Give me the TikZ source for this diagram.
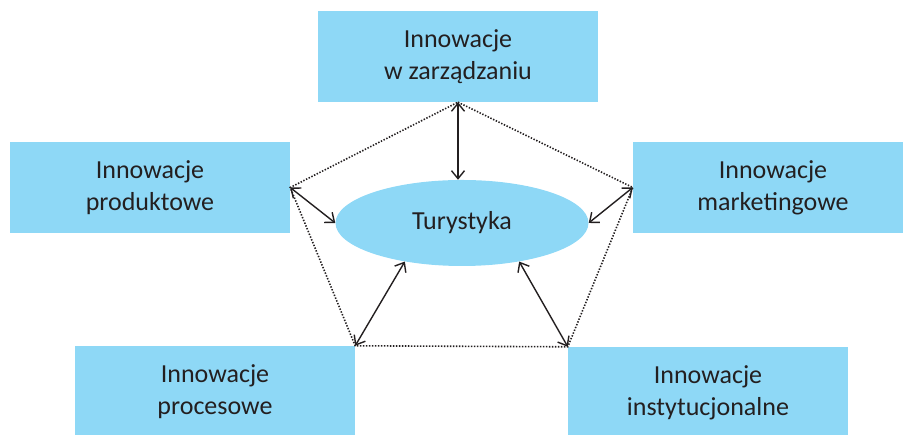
\documentclass[tikz,border=0pt]{standalone}
\usepackage{fontspec}
\setmainfont{Carlito}
\usetikzlibrary{shapes.geometric,arrows.meta}
\definecolor{niebieski}{RGB}{142,216,246}
\definecolor{tekst}{RGB}{35,31,32}

\begin{document}
\begin{tikzpicture}[x=1pt,y=1pt,
    box/.style={fill=niebieski, minimum width=280pt, minimum height=91pt, inner sep=0pt,
      align=center, text=tekst, font=\fontsize{26}{32}\selectfont},
    owal/.style={ellipse, fill=niebieski, minimum width=253pt, minimum height=86pt, inner sep=0pt,
      text=tekst, font=\fontsize{26}{32}\selectfont},
    dwa/.style={{Straight Barb[length=8pt,width=13pt]}-{Straight Barb[length=8pt,width=13pt]},
      line width=1.4pt, draw=tekst},
    kropki/.style={line width=1.6pt, dash pattern=on 1.4pt off 1.6pt, draw=tekst}]
    \clip (0,0) rectangle (903,435);
    % boxes
    \node[box] (zarz) at (458,378.5) {Innowacje\\w zarządzaniu};
    \node[box] (prod) at (150,247.5) {Innowacje\\produktowe};
    \node[box] (mark) at (773,247.5) {Innowacje\\marketingowe};
    \node[box] (proc) at (215,43.5) {Innowacje\\procesowe};
    \node[box] (inst) at (708,42.5) {Innowacje\\instytucjonalne};
    \node[owal] (tur) at (462,212) {Turystyka};
    %
    \draw[kropki] (zarz.south) -- (mark.west) -- (inst.north west) -- (proc.north east) -- (prod.east) -- cycle;
    %
    \draw[dwa] (zarz.south) -- (zarz.south |- tur.north);
    \draw[dwa] (prod.east) -- (tur.west);
    \draw[dwa] (mark.west) -- (tur.east);
    \draw[dwa] (proc.north east) -- (tur.214);
    \draw[dwa] (inst.north west) -- (tur.326);
  \end{tikzpicture}
\end{document}
